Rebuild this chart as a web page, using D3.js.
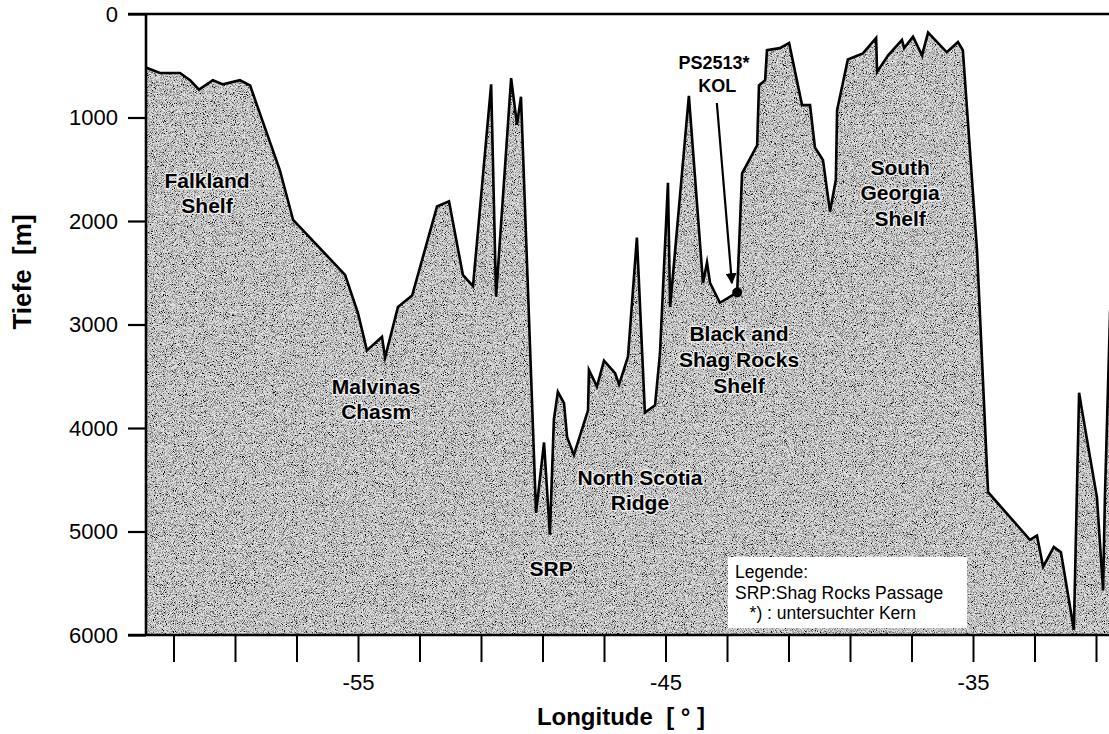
<!DOCTYPE html>
<html>
<head>
<meta charset="utf-8">
<script src="https://cdn.jsdelivr.net/npm/d3@7/dist/d3.min.js"></script>
<style>
  html, body { margin: 0; padding: 0; background: #fff; }
  svg { display: block; }
  text { font-family: "Liberation Sans", Arial, sans-serif; fill: #000; }
</style>
</head>
<body>
<svg id="chart" width="1109" height="734"></svg>
<script>
// Bathymetric profile along the track: longitude (°) and water depth (m)
const longitude = [
  -61.88, -61.44, -60.79, -60.46, -60.17, -59.72, -59.39, -58.84, -58.51, -57.54,
  -57.11, -55.42, -55.00, -54.71, -54.22, -54.12, -53.70, -53.24, -52.43, -52.04,
  -51.59, -51.26, -50.67, -50.51, -50.02, -49.83, -49.70, -49.21, -48.95, -48.76,
  -48.63, -48.50, -48.30, -48.20, -47.98, -47.52, -47.49, -47.23, -47.00, -46.64,
  -46.51, -46.22, -45.93, -45.67, -45.34, -45.18, -44.92, -44.85, -44.24, -43.78,
  -43.65, -43.55, -43.23, -42.67, -42.51, -42.02, -41.96, -41.76, -41.70, -41.28,
  -40.98, -40.56, -40.30, -40.14, -39.88, -39.65, -39.46, -39.42, -39.07, -38.58,
  -38.15, -38.12, -37.76, -37.31, -37.24, -36.95, -36.66, -36.46, -35.85, -35.49,
  -35.33, -34.87, -34.51, -33.15, -32.92, -32.72, -32.37, -32.14, -31.72, -31.55,
  -31.42, -30.97, -30.77, -30.71, -30.54
];
const depth = [
   520,  570,  570,  640,  730,  640,  680,  640,  690, 1510,
  1990, 2520, 2890, 3250, 3120, 3320, 2830, 2720, 1860, 1810,
  2520, 2630,  680, 2730,  620, 1070,  800, 4820, 4140, 5030,
  3920, 3650, 3760, 4090, 4260, 3830, 3440, 3600, 3350, 3470,
  3580, 3310, 2160, 3850, 3780, 3280, 1630, 2830,  790, 2600,
  2400, 2600, 2790, 2690, 1540, 1270,  690,  640,  350,  330,
   280,  880,  880, 1290, 1410, 1910, 1600,  930,  440,  380,
   230,  560,  400,  250,  330,  220,  400,  180,  370,  270,
   350, 2280, 4620, 5080, 5040, 5340, 5150, 5200, 5950, 3660,
  3890, 4670, 5570, 4670, 2860
];

// Axis ticks
const depthTicks = [0, 1000, 2000, 3000, 4000, 5000, 6000];
const lonTicks = [-61, -59, -57, -55, -53, -51, -49, -47, -45, -43, -41, -39, -37, -35, -33, -31];
const lonTickLabels = ["-55", "-45", "-35"];

// Core site PS2513* (KOL)
const coreLon = -42.67;
const coreDepth = 2690;

// Legend lines
const legendLines = ["Legende:", "SRP:Shag Rocks Passage", "   *) : untersuchter Kern"];

(function drawProfile() {
  const profile = longitude.map((lon, i) => ({ lon, d: depth[i] }));

  const svg = d3.select("#chart");
  const plotLeft = 146, plotRight = 1109, plotTop = 14, plotBottom = 635;

  const x = d3.scaleLinear().domain([-55, -35]).range([358, 973]);
  const y = d3.scaleLinear().domain([0, 6000]).range([plotTop, plotBottom]);

  const defs = svg.append("defs");

  // Grainy halftone-like fill for the sea floor body
  const grain = defs.append("filter")
    .attr("id", "grain")
    .attr("filterUnits", "userSpaceOnUse")
    .attr("x", plotLeft).attr("y", plotTop)
    .attr("width", plotRight - plotLeft).attr("height", plotBottom - plotTop);
  grain.append("feTurbulence")
    .attr("type", "fractalNoise").attr("baseFrequency", 1.1)
    .attr("numOctaves", 2).attr("seed", 7).attr("result", "noise");
  grain.append("feColorMatrix")
    .attr("in", "noise").attr("type", "matrix")
    .attr("values", "0 0 0 0 0  0 0 0 0 0  0 0 0 0 0  3.0 0 0 0 -1.2")
    .attr("result", "dots");
  grain.append("feComposite")
    .attr("in", "dots").attr("in2", "SourceGraphic").attr("operator", "in")
    .attr("result", "dotsIn");
  const merge = grain.append("feMerge");
  merge.append("feMergeNode").attr("in", "SourceGraphic");
  merge.append("feMergeNode").attr("in", "dotsIn");

  defs.append("clipPath").attr("id", "plotClip")
    .append("rect")
    .attr("x", plotLeft).attr("y", plotTop)
    .attr("width", plotRight - plotLeft).attr("height", plotBottom - plotTop);

  defs.append("marker")
    .attr("id", "arrowHead")
    .attr("viewBox", "0 0 10 10")
    .attr("refX", 9).attr("refY", 5)
    .attr("markerWidth", 5).attr("markerHeight", 5)
    .attr("markerUnits", "strokeWidth")
    .attr("orient", "auto")
    .append("path").attr("d", "M0,0 L10,5 L0,10 Z").attr("fill", "#000");

  const plot = svg.append("g").attr("clip-path", "url(#plotClip)");

  const area = d3.area()
    .x(p => x(p.lon))
    .y0(y(6000))
    .y1(p => y(p.d));

  const line = d3.line()
    .x(p => x(p.lon))
    .y(p => y(p.d));

  plot.append("path")
    .datum(profile)
    .attr("d", area)
    .attr("fill", "#e4e4e4")
    .attr("filter", "url(#grain)");

  plot.append("path")
    .datum(profile)
    .attr("d", line)
    .attr("fill", "none")
    .attr("stroke", "#000")
    .attr("stroke-width", 2.6)
    .attr("stroke-linejoin", "miter")
    .attr("stroke-miterlimit", 6);

  // Axes
  const yAxis = d3.axisLeft(y)
    .tickValues(depthTicks)
    .tickSize(18)
    .tickPadding(10)
    .tickFormat(d3.format("d"));
  const gy = svg.append("g").attr("transform", `translate(${plotLeft},0)`).call(yAxis);
  gy.select(".domain").remove();
  gy.selectAll(".tick line").attr("stroke", "#000").attr("stroke-width", 2.2);
  gy.selectAll(".tick text")
    .style("font-size", "22px")
    .style("font-family", "'Liberation Sans', Arial, sans-serif");

  const xAxis = d3.axisBottom(x)
    .tickValues(lonTicks)
    .tickSize(27)
    .tickPadding(12)
    .tickFormat(d => lonTickLabels.includes(String(d)) ? String(d) : "");
  const gx = svg.append("g").attr("transform", `translate(0,${plotBottom})`).call(xAxis);
  gx.select(".domain").remove();
  gx.selectAll(".tick line").attr("stroke", "#000").attr("stroke-width", 2);
  gx.selectAll(".tick text")
    .style("font-size", "22px")
    .style("font-family", "'Liberation Sans', Arial, sans-serif");

  // Frame lines
  svg.append("line").attr("x1", plotLeft).attr("x2", plotLeft)
    .attr("y1", plotTop - 1).attr("y2", plotBottom + 1)
    .attr("stroke", "#000").attr("stroke-width", 2.6);
  svg.append("line").attr("x1", 128).attr("x2", plotRight)
    .attr("y1", plotTop).attr("y2", plotTop)
    .attr("stroke", "#000").attr("stroke-width", 2.6);
  svg.append("line").attr("x1", 128).attr("x2", plotRight)
    .attr("y1", plotBottom).attr("y2", plotBottom)
    .attr("stroke", "#000").attr("stroke-width", 2.6);

  // Axis titles
  svg.append("text")
    .attr("transform", "translate(31,272) rotate(-90)")
    .attr("text-anchor", "middle")
    .attr("xml:space", "preserve")
    .style("font-size", "26px").style("font-weight", "bold")
    .text("Tiefe  [m]");

  svg.append("text")
    .attr("x", 621).attr("y", 725)
    .attr("text-anchor", "middle")
    .attr("xml:space", "preserve")
    .style("font-size", "24px").style("font-weight", "bold")
    .text("Longitude  [ ° ]");

  // Region labels placed in data coordinates
  function regionLabel(lon, d, lines, spacing) {
    const t = svg.append("text")
      .attr("text-anchor", "middle")
      .style("font-size", "21px").style("font-weight", "bold")
      .attr("stroke", "#fff").attr("stroke-width", 3).attr("stroke-opacity", 0.7)
      .attr("paint-order", "stroke")
      .attr("stroke-linejoin", "round");
    lines.forEach((s, i) => {
      t.append("tspan")
        .attr("x", x(lon))
        .attr("y", y(d) + i * spacing + 8)
        .text(s);
    });
  }
  regionLabel(-59.91, 1604, ["Falkland", "Shelf"], 25);
  regionLabel(-54.41, 3594, ["Malvinas", "Chasm"], 25);
  regionLabel(-48.72, 5353, ["SRP"], 25);
  regionLabel(-45.83, 4473, ["North Scotia", "Ridge"], 25);
  regionLabel(-42.61, 3082, ["Black and", "Shag Rocks", "Shelf"], 26);
  regionLabel(-37.37, 1478, ["South", "Georgia", "Shelf"], 25.5);

  // Core label, arrow and site marker
  const coreLabel = svg.append("text")
    .attr("text-anchor", "middle")
    .style("font-size", "18px").style("font-weight", "bold");
  coreLabel.append("tspan").attr("x", x(-43.42)).attr("y", y(464) + 7).text("PS2513*");
  coreLabel.append("tspan").attr("x", x(-43.32)).attr("y", y(464) + 30).text("KOL");

  svg.append("line")
    .attr("x1", x(-43.33)).attr("y1", y(860))
    .attr("x2", x(-42.84)).attr("y2", y(2600))
    .attr("stroke", "#000").attr("stroke-width", 2.2)
    .attr("marker-end", "url(#arrowHead)");

  svg.append("circle")
    .attr("cx", x(coreLon)).attr("cy", y(coreDepth))
    .attr("r", 5).attr("fill", "#000");

  // Legend box
  const lg = svg.append("g").attr("transform", "translate(728,557)");
  lg.append("rect").attr("width", 239).attr("height", 71).attr("fill", "#fff");
  legendLines.forEach((s, i) => {
    lg.append("text")
      .attr("x", 7).attr("y", 21 + i * 20.5)
      .attr("xml:space", "preserve")
      .style("font-size", "17.5px")
      .text(s);
  });
})();
</script>
</body>
</html>
